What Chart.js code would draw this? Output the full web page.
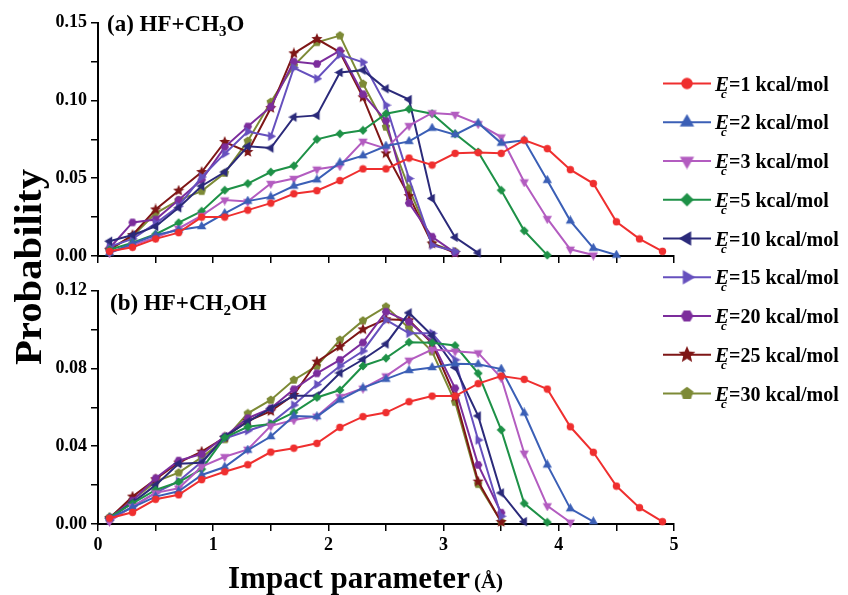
<!DOCTYPE html>
<html>
<head>
<meta charset="utf-8">
<script src="https://cdn.jsdelivr.net/npm/chart.js@4.4.1/dist/chart.umd.min.js"></script>
<style>
  body { margin: 0; background: #fff; overflow: hidden; }
  canvas { position: absolute; left: 0; top: 0; }
</style>
</head>
<body>
<canvas id="top" width="848" height="595"></canvas>
<canvas id="bottom" width="848" height="595"></canvas>
<script>
// impact parameter (Å) of each point
const impact = [0.1, 0.3, 0.5, 0.7, 0.9, 1.1, 1.3, 1.5, 1.7, 1.9, 2.1, 2.3, 2.5,
                2.7, 2.9, 3.1, 3.3, 3.5, 3.7, 3.9, 4.1, 4.3, 4.5, 4.7, 4.9];
// collision energies (kcal/mol)
const energies = [1, 2, 3, 5, 10, 15, 20, 25, 30];

// (a) HF+CH3O
const a1  = [0.003, 0.0056, 0.011, 0.015, 0.025, 0.025, 0.0295, 0.034, 0.040, 0.042, 0.0485, 0.056, 0.056, 0.063, 0.0585, 0.066, 0.0665, 0.066, 0.0745, 0.069, 0.0555, 0.0466, 0.022, 0.011, 0.003];
const a2  = [0.002, 0.008, 0.0135, 0.0167, 0.019, 0.0274, 0.0353, 0.038, 0.045, 0.049, 0.060, 0.0645, 0.0707, 0.0737, 0.0822, 0.078, 0.0855, 0.0726, 0.0744, 0.0487, 0.0226, 0.005, 0.0006];
const a3  = [0.002, 0.007, 0.012, 0.0177, 0.026, 0.036, 0.035, 0.0466, 0.0498, 0.0558, 0.058, 0.0737, 0.069, 0.0838, 0.092, 0.091, 0.085, 0.0765, 0.0476, 0.024, 0.0043, 0.0006];
const a5  = [0.004, 0.0085, 0.014, 0.0214, 0.0288, 0.0423, 0.0466, 0.054, 0.058, 0.075, 0.0786, 0.0808, 0.0915, 0.0944, 0.0915, 0.0786, 0.0669, 0.0423, 0.0162, 0.0006];
const a10 = [0.0095, 0.0135, 0.019, 0.031, 0.045, 0.054, 0.0705, 0.0694, 0.0893, 0.0904, 0.118, 0.1195, 0.1075, 0.1006, 0.037, 0.012, 0.002];
const a15 = [0.006, 0.011, 0.021, 0.032, 0.0508, 0.0658, 0.080, 0.077, 0.121, 0.114, 0.1295, 0.1246, 0.097, 0.0498, 0.007, 0.003];
const a20 = [0.005, 0.0216, 0.0235, 0.036, 0.049, 0.070, 0.0833, 0.096, 0.125, 0.1235, 0.132, 0.104, 0.087, 0.034, 0.0124, 0.002];
const a25 = [0.004, 0.0135, 0.0299, 0.042, 0.054, 0.0733, 0.0669, 0.0951, 0.1303, 0.1395, 0.131, 0.102, 0.066, 0.0385, 0.008, 0.002];
const a30 = [0.0043, 0.0128, 0.0274, 0.0359, 0.0417, 0.0534, 0.0739, 0.099, 0.1224, 0.1374, 0.1417, 0.1107, 0.083, 0.0434, 0.0081, 0.0028];

// (b) HF+CH2OH
const b1  = [0.003, 0.006, 0.0127, 0.015, 0.0228, 0.0269, 0.0305, 0.037, 0.039, 0.0415, 0.0497, 0.0552, 0.0573, 0.0629, 0.0658, 0.0658, 0.0722, 0.0761, 0.0744, 0.0694, 0.050, 0.0369, 0.0195, 0.0084, 0.0012];
const b2  = [0.003, 0.0086, 0.0141, 0.0168, 0.0252, 0.0293, 0.038, 0.045, 0.0555, 0.0552, 0.0638, 0.070, 0.0745, 0.079, 0.0805, 0.0824, 0.0822, 0.0797, 0.0571, 0.0304, 0.0079, 0.0012];
const b3  = [0.0013, 0.009, 0.016, 0.0184, 0.0295, 0.0346, 0.0384, 0.0505, 0.0535, 0.0554, 0.0655, 0.0698, 0.0761, 0.0842, 0.0897, 0.0889, 0.088, 0.0752, 0.0364, 0.0093, 0.0009];
const b5  = [0.0034, 0.0106, 0.0175, 0.0216, 0.0282, 0.0445, 0.05, 0.0515, 0.0574, 0.0651, 0.0689, 0.0813, 0.0853, 0.0935, 0.0932, 0.0918, 0.0775, 0.0484, 0.0106, 0.0009];
const b10 = [0.003, 0.011, 0.02, 0.031, 0.0315, 0.045, 0.0526, 0.0595, 0.066, 0.066, 0.0777, 0.0846, 0.0926, 0.1086, 0.097, 0.0805, 0.0556, 0.016, 0.0012];
const b15 = [0.002, 0.009, 0.016, 0.022, 0.032, 0.044, 0.048, 0.0518, 0.0612, 0.0718, 0.0813, 0.089, 0.105, 0.0981, 0.0981, 0.0844, 0.0432, 0.004];
const b20 = [0.003, 0.012, 0.0235, 0.0326, 0.036, 0.045, 0.0544, 0.0595, 0.0693, 0.0775, 0.0844, 0.0933, 0.1092, 0.104, 0.0938, 0.0698, 0.0304, 0.0058];
const b25 = [0.003, 0.0141, 0.023, 0.0316, 0.0372, 0.0445, 0.053, 0.058, 0.0664, 0.0835, 0.0912, 0.1001, 0.1053, 0.1048, 0.0929, 0.0655, 0.0218, 0.001];
const b30 = [0.0034, 0.0124, 0.0218, 0.0264, 0.0343, 0.0435, 0.0569, 0.0638, 0.0741, 0.0813, 0.0947, 0.1046, 0.1118, 0.1007, 0.0887, 0.0627, 0.0205, 0.0012];

// tick labels
const xLabels = ['0', '1', '2', '3', '4', '5'];
const yLabelsA = ['0.00', '0.05', '0.10', '0.15'];
const yLabelsB = ['0.00', '0.04', '0.08', '0.12'];

const panelA = [a1, a2, a3, a5, a10, a15, a20, a25, a30];
const panelB = [b1, b2, b3, b5, b10, b15, b20, b25, b30];

const colors = ['#ef2f2f', '#3b5fb6', '#b35cc0', '#1e9147', '#2b2a7a', '#6650be', '#7c2d9c', '#7e1616', '#7d8a36'];
const shapes = ['circle', 'triUp', 'triDown', 'diamond', 'triLeft', 'triRight', 'hexagon', 'star', 'pentagon'];
const SERIF = "'Liberation Serif', 'Times New Roman', serif";

// marker images, so hexagon / star / pentagon look like the original
function makeMarker(shape, color, size) {
    var c = document.createElement('canvas');
    c.width = size;
    c.height = size;
    var g = c.getContext('2d');
    var r = size / 2;
    g.fillStyle = color;
    g.beginPath();
    if (shape === 'circle') {
        g.arc(r, r, r * 0.82, 0, 2 * Math.PI);
    } else {
        var n = 3, start = -90, rad = r * 0.98, inner = 0;
        if (shape === 'triDown') start = 90;
        if (shape === 'triLeft') start = 180;
        if (shape === 'triRight') start = 0;
        if (shape === 'diamond') { n = 4; rad = r * 0.9; }
        if (shape === 'hexagon') { n = 6; start = 0; rad = r * 0.85; }
        if (shape === 'pentagon') { n = 5; rad = r * 0.9; }
        if (shape === 'star') { n = 5; inner = 0.45; }
        var pts = inner ? n * 2 : n;
        for (var k = 0; k < pts; k++) {
            var a = (start + k * 360 / pts) * Math.PI / 180;
            var rr = (inner && k % 2 === 1) ? rad * inner : rad;
            var px = r + rr * Math.cos(a), py = r + rr * Math.sin(a);
            if (k === 0) g.moveTo(px, py); else g.lineTo(px, py);
        }
        g.closePath();
    }
    g.fill();
    return c;
}

const plotSizes = { circle: 9, triUp: 11, triDown: 11, triLeft: 11, triRight: 11, diamond: 10, hexagon: 10, star: 12, pentagon: 10 };
const plotMarkers = shapes.map((s, i) => makeMarker(s, colors[i], plotSizes[s]));
const legendMarkers = shapes.map((s, i) => makeMarker(s, colors[i], Math.round(plotSizes[s] * 1.5)));

function makeDatasets(panel) {
    return panel.map((vals, i) => ({
        label: 'Ec=' + energies[i] + ' kcal/mol',
        data: vals.map((v, j) => ({ x: impact[j], y: v })),
        borderColor: colors[i],
        backgroundColor: colors[i],
        borderWidth: 2,
        pointStyle: plotMarkers[i],
        pointRadius: 5,
        pointHoverRadius: 5,
        tension: 0,
        clip: false
    }));
}

function makeOptions(yMax, yStep, yLabels, showX, padding) {
    const tickFont = { family: SERIF, weight: 'bold', size: 18 };
    const axisGrid = { drawOnChartArea: false, color: '#000', tickLength: 7, lineWidth: 1.5 };
    return {
        responsive: false,
        animation: false,
        layout: { padding: padding },
        plugins: { legend: { display: false }, tooltip: { enabled: false } },
        events: [],
        scales: {
            x: {
                type: 'linear', min: 0, max: 5,
                grid: axisGrid,
                border: { color: '#000', width: 2 },
                ticks: {
                    stepSize: 0.5, color: '#000', font: tickFont, padding: 4, maxRotation: 0,
                    callback: v => (showX && xLabels.includes(String(v))) ? String(v) : ''
                },
                afterFit: s => { s.height = showX ? 71 : 10; }
            },
            y: {
                min: 0, max: yMax,
                grid: axisGrid,
                border: { color: '#000', width: 2 },
                ticks: {
                    stepSize: yStep, color: '#000', font: tickFont, padding: 4,
                    callback: v => yLabels.includes(v.toFixed(2)) ? v.toFixed(2) : ''
                },
                afterFit: s => { s.width = 98; }
            }
        }
    };
}

// draw a run of text pieces (for subscripts)
function drawRuns(ctx, x, y, runs) {
    runs.forEach(r => {
        ctx.font = (r.italic ? 'italic ' : '') + 'bold ' + r.size + 'px ' + SERIF;
        ctx.fillText(r.t, x, y + (r.dy || 0));
        x += ctx.measureText(r.t).width;
    });
    return x;
}

const decor = {
    id: 'decor',
    afterDraw(chart) {
        const ctx = chart.ctx;
        ctx.save();
        ctx.fillStyle = '#000';
        ctx.textAlign = 'left';
        ctx.textBaseline = 'alphabetic';

        // panel labels
        drawRuns(ctx, 107, 31, [{ t: '(a) HF+CH', size: 23 }, { t: '3', size: 15, dy: 5 }, { t: 'O', size: 23 }]);
        drawRuns(ctx, 110, 310, [{ t: '(b) HF+CH', size: 23 }, { t: '2', size: 15, dy: 5 }, { t: 'OH', size: 23 }]);

        // axis titles
        var xEnd = drawRuns(ctx, 228, 588, [{ t: 'Impact parameter', size: 31 }]);
        drawRuns(ctx, xEnd + 4, 588, [{ t: '(Å)', size: 21 }]);

        ctx.save();
        ctx.translate(30, 267);
        ctx.rotate(-Math.PI / 2);
        ctx.scale(1.1, 1);
        ctx.textAlign = 'center';
        ctx.font = 'bold 37px ' + SERIF;
        ctx.fillText('Probability', 0, 11);
        ctx.restore();

        // legend
        energies.forEach((e, i) => {
            const yc = 83.5 + i * 38.75;
            ctx.strokeStyle = colors[i];
            ctx.lineWidth = 2;
            ctx.beginPath();
            ctx.moveTo(663, yc);
            ctx.lineTo(711, yc);
            ctx.stroke();
            const m = legendMarkers[i];
            ctx.drawImage(m, 687 - m.width / 2, yc - m.height / 2);
            ctx.fillStyle = '#000';
            ctx.textAlign = 'left';
            const base = yc + 7;
            ctx.font = 'italic bold 21px ' + SERIF;
            const ew = ctx.measureText('E').width;
            ctx.fillText('E', 715, base);
            ctx.font = 'italic bold 13px ' + SERIF;
            ctx.fillText('c', 715 + ew - 8, base + 7);
            ctx.font = 'bold 20px ' + SERIF;
            ctx.fillText('=' + e + ' kcal/mol', 715 + ew, base);
        });
        ctx.restore();
    }
};

const chartA = new Chart(document.getElementById('top').getContext('2d'), {
    type: 'line',
    data: { datasets: makeDatasets(panelA) },
    options: makeOptions(0.15, 0.025, yLabelsA, false, { left: 0, right: 174, top: 22.7, bottom: 595 - 256 - 10 })
});

const chartB = new Chart(document.getElementById('bottom').getContext('2d'), {
    type: 'line',
    data: { datasets: makeDatasets(panelB) },
    options: makeOptions(0.12, 0.02, yLabelsB, true, { left: 0, right: 174, top: 290.7, bottom: 0 }),
    plugins: [decor]
});
</script>
</body>
</html>
